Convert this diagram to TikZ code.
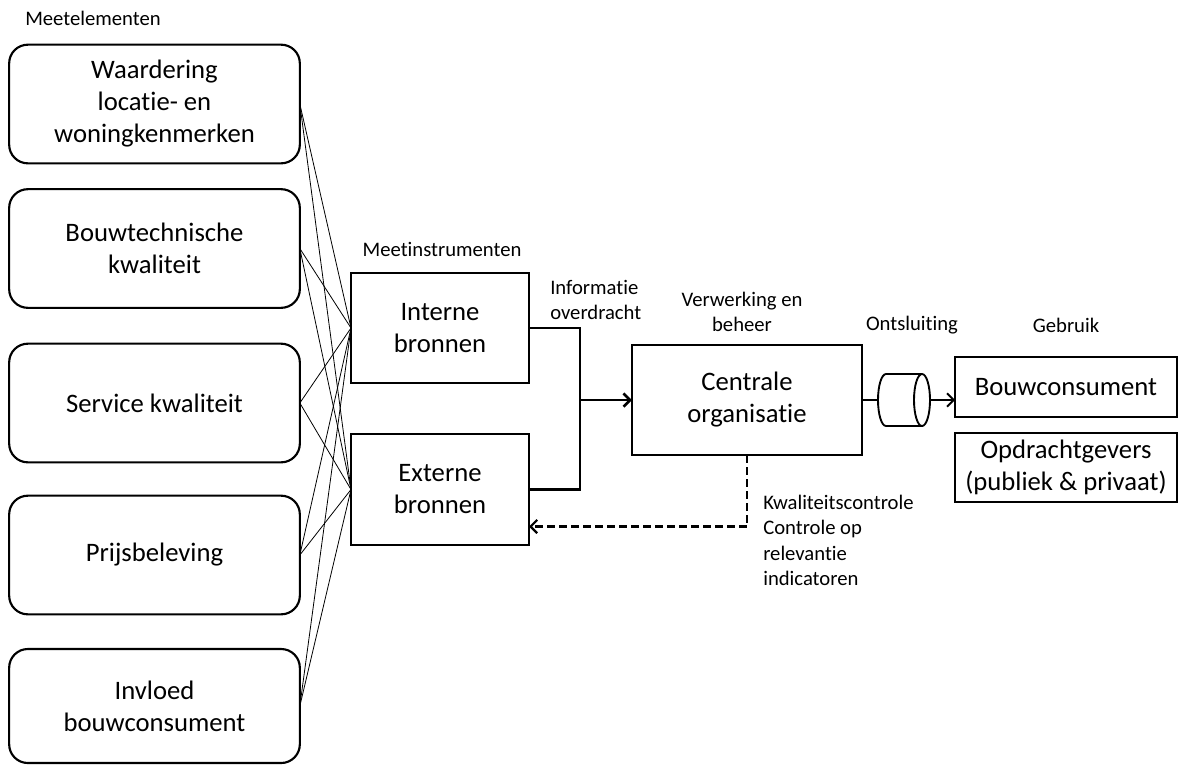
\documentclass[tikz,border=0pt]{standalone}
\usepackage{fontspec}
\setmainfont{Carlito}[Ligatures={NoCommon,NoContextual},RawFeature={-liga;-clig;-calt;-dlig}]
\usetikzlibrary{calc,arrows.meta}
\begin{document}
\begin{tikzpicture}
[x=0.75pt,y=-0.75pt,
  elemdecorate/.style={shape=rectangle,rounded corners=14pt,draw,line width=1.6pt,
    minimum width=218pt,align=center,outer sep=0pt,font=\fontsize{20}{24}\selectfont},
  boxdecorate/.style={shape=rectangle,draw,line width=1.6pt,align=center,outer sep=0pt,
    font=\fontsize{20}{24}\selectfont},
  labeldecorate/.style={inner sep=0pt,font=\fontsize{15.5}{19}\selectfont},
  linedecorate/.style={-,line width=0.6pt},
  flowdecorate/.style={line width=2pt},
  tipdecorate/.style={-{Straight Barb[length=5pt,width=10pt]}}]
\useasboundingbox (0,0) rectangle (1184,765);
%% measuring elements
\foreach \nodename/\y/\h/\txt in {waard/104/89pt/{Waardering\\locatie- en\\woningkenmerken},
    bouwt/248.5/89pt/{Bouwtechnische\\kwaliteit}, service/403/89pt/{Service kwaliteit},
    prijs/555/89pt/{Prijsbeleving}, invloed/706/85.5pt/{Invloed\\bouwconsument}} {
  \node (\nodename) at (154.5,\y) [elemdecorate,minimum height=\h] {\txt};
}
%% measuring instruments and the rest of the chain
\node (int) at (440,328) [boxdecorate,minimum width=133.5pt,minimum height=82.5pt] {Interne\\bronnen};
\node (ext) at (440,489.5) [boxdecorate,minimum width=133.5pt,minimum height=83pt] {Externe\\bronnen};
\node (cent) at (747,400) [boxdecorate,minimum width=172.5pt,minimum height=82.5pt] {Centrale\\organisatie};
\node (bouwc) at (1066,387) [boxdecorate,minimum width=166.5pt,minimum height=45pt] {Bouwconsument};
\node (opdr) at (1066,467.5) [boxdecorate,minimum width=166.5pt,minimum height=52pt] {Opdrachtgevers\\(publiek \& privaat)};
%% cylinder
\coordinate (cyl) at (904,400);
\coordinate (cylw) at (878,400);
\coordinate (cyle) at (930,400);
\draw[line width=1.4pt] (cyl) ++(18,-26) -- ++(-36,0)
  arc[start angle=90,end angle=270,x radius=6pt,y radius=19.5pt] -- ++(36,0);
\draw[line width=1.4pt] (922,400) ellipse [x radius=6pt,y radius=19.5pt];
%% labels
\node (meetel) at (25,18) [labeldecorate,anchor=west] {Meetelementen};
\node (meetin) at (442,249) [labeldecorate] {Meetinstrumenten};
\node (info) at (550,300) [labeldecorate,anchor=west,align=left] {Informatie\\overdracht};
\node (verw) at (742,312) [labeldecorate,align=center] {Verwerking en\\beheer};
\node (ontsl) at (912,325) [labeldecorate] {Ontsluiting};
\node (gebr) at (1066,325) [labeldecorate] {Gebruik};
\node (kwal) at (763,495) [labeldecorate,anchor=north west,align=left] {Kwaliteitscontrole\\Controle op\\relevantie\\indicatoren};
%% edges or lines
\path
\foreach \startnode in {waard,bouwt,service,prijs,invloed} {
  (\startnode.east) edge[linedecorate] (int.west)
  (\startnode.east) edge[linedecorate] (ext.west)
};
\coordinate (join) at (580,400);
\coordinate (extin) at ($(ext.east)+(0,37)$);
\coordinate (bouwin) at (bouwc.west |- cyle);
\draw[flowdecorate] (int.east) -| (join);
\draw[flowdecorate] (ext.east) -| (join);
\draw[flowdecorate,tipdecorate] (join) -- (cent.west);
\draw[line width=1.4pt] (cent.east) -- (cylw);
\draw[line width=1.4pt,tipdecorate] (cyle) -- (bouwin);
\draw[line width=1.6pt,dash pattern=on 6pt off 3pt,tipdecorate] (cent.south) |- (extin);
\end{tikzpicture}
\end{document}
